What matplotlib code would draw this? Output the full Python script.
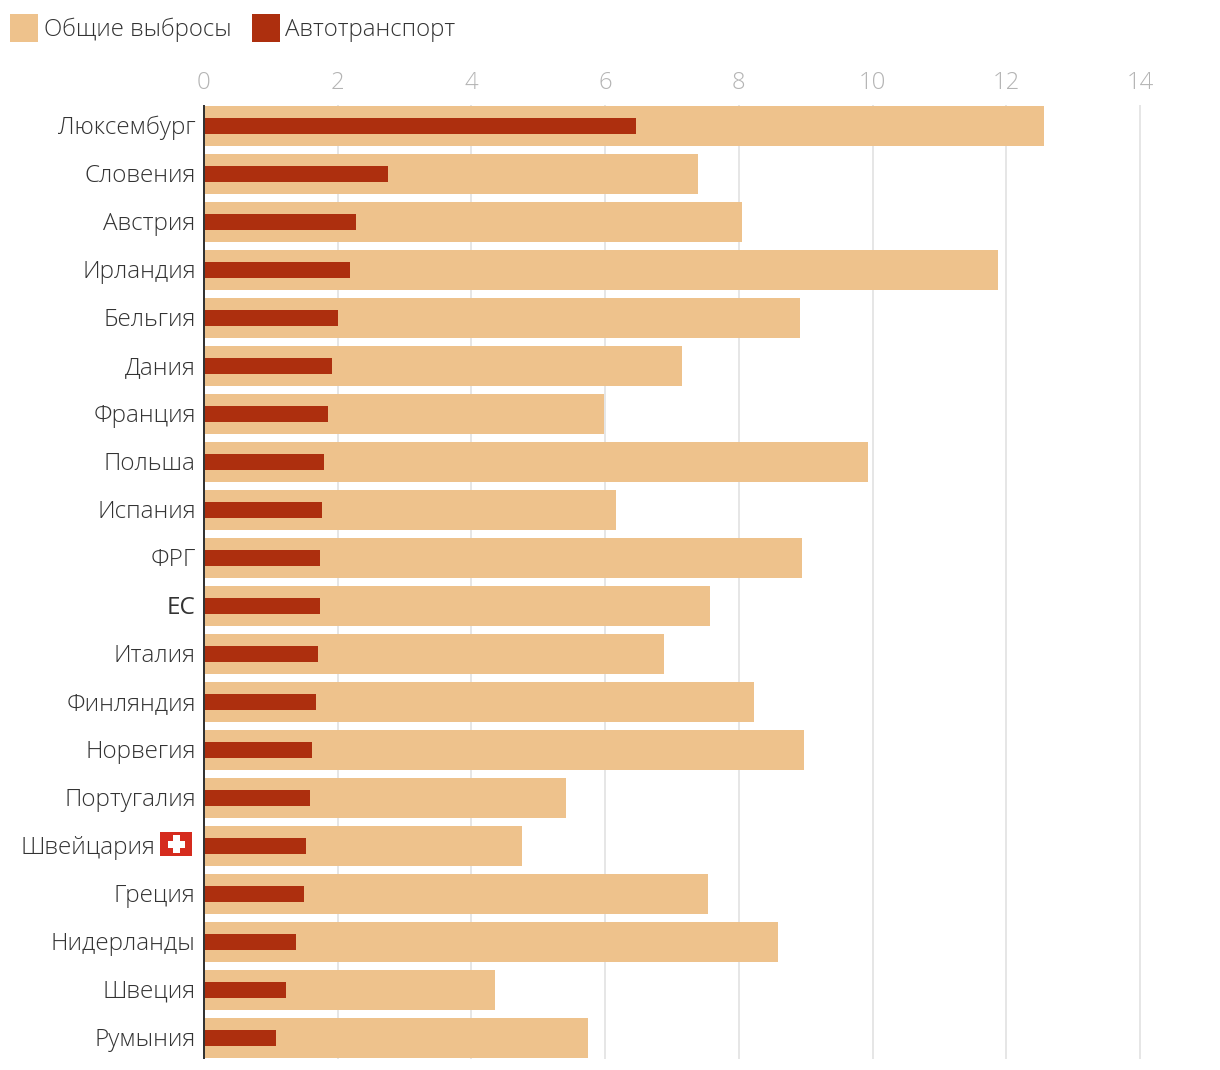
import matplotlib
matplotlib.use("Agg")
import matplotlib.pyplot as plt
from matplotlib.patches import Rectangle
from matplotlib.transforms import ScaledTranslation
import numpy as np

countries = ["Люксембург", "Словения", "Австрия", "Ирландия", "Бельгия", "Дания", "Франция", "Польша",
             "Испания", "ФРГ", "ЕС", "Италия", "Финляндия", "Норвегия", "Португалия", "Швейцария",
             "Греция", "Нидерланды", "Швеция", "Румыния"]
total = [12.57, 7.39, 8.05, 11.88, 8.91, 7.15, 5.98, 9.93, 6.16, 8.94, 7.57, 6.88, 8.23, 8.97, 5.41, 4.75,
         7.54, 8.59, 4.35, 5.74]
transport = [6.46, 2.75, 2.27, 2.18, 2.00, 1.91, 1.85, 1.79, 1.76, 1.73, 1.73, 1.70, 1.67, 1.61, 1.58, 1.52,
             1.49, 1.37, 1.22, 1.07]
xticks = [0, 2, 4, 6, 8, 10, 12, 14]
legend_labels = ["Общие выбросы", "Автотранспорт"]

W, H = 1220, 1070
C_TOTAL, C_AUTO = "#EEC28C", "#AD2F0E"
FONT = ["Open Sans", "DejaVu Sans"]
plt.rcParams["font.family"] = FONT
plt.rcParams["font.weight"] = "light"

fig = plt.figure(figsize=(W / 100, H / 100), dpi=100, facecolor="white")
L, R, T, B = 204.0, 1140.0, 106.0, 1058.0
ax = fig.add_axes([L / W, 1 - B / H, (R - L) / W, (B - T) / H])
y = np.arange(len(countries))
ax.barh(y, total, height=40 / 48, color=C_TOTAL, zorder=2)
ax.barh(y, transport, height=16 / 48, color=C_AUTO, zorder=3)
ax.set_xlim(0, 14)
ax.set_ylim(19 + 20 / 48, -20 / 48)
ax.set_xticks(xticks)
ax.set_yticks(y)
ax.set_yticklabels(countries)
ax.xaxis.tick_top()
ax.grid(axis="x", color="#E6E6E6", linewidth=1.44, zorder=0, clip_on=False)
ax.set_axisbelow(True)
for s in ["top", "right", "bottom"]:
    ax.spines[s].set_visible(False)
ax.spines["left"].set_color("#333333")
ax.spines["left"].set_linewidth(1.44)
ax.spines["left"].set_zorder(5)
ax.tick_params(axis="x", length=0, pad=8, labelsize=17.2, labelcolor="#B4B4B4")
ax.tick_params(axis="y", length=0, pad=6, labelsize=17.45, labelcolor="#333333")
up = ScaledTranslation(0, 1 / 100, fig.dpi_scale_trans)
for lab in ax.get_yticklabels():
    lab.set_transform(lab.get_transform() + up)
    if lab.get_text() == "ЕС":
        lab.set_fontweight("normal")
    if lab.get_text() == "Швейцария":
        lab.set_x(-40 / (R - L))

def px_rect(x0, y0, x1, y1, color):
    fig.add_artist(Rectangle((x0 / W, 1 - y1 / H), (x1 - x0) / W, (y1 - y0) / H,
                             transform=fig.transFigure, facecolor=color, edgecolor="none"))

# legend
px_rect(10, 14, 38, 42, C_TOTAL)
fig.text(44 / W, 1 - 27 / H, legend_labels[0], fontsize=17.2, color="#333333", va="center_baseline")
px_rect(252, 14, 280, 42, C_AUTO)
fig.text(285 / W, 1 - 27 / H, legend_labels[1], fontsize=17.3, color="#333333", va="center_baseline")

# Swiss flag
px_rect(160, 832, 192, 856, "#D52B1E")
px_rect(173, 835, 180, 853, "white")
px_rect(168, 841, 185, 848, "white")

fig.savefig("out.png", dpi=100, facecolor="white")
